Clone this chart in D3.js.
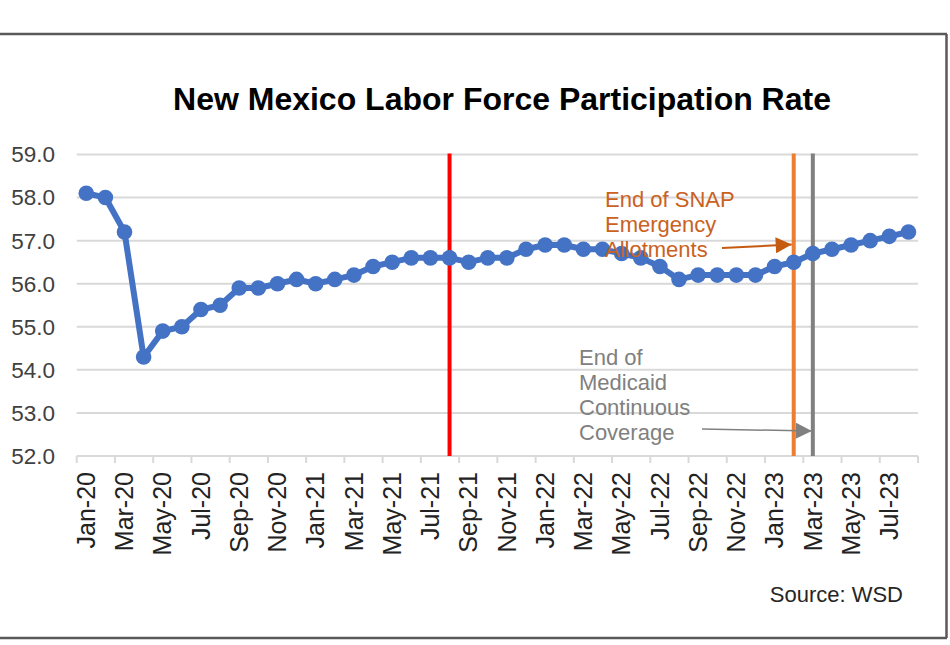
<!DOCTYPE html>
<html>
<head>
<meta charset="utf-8">
<script src="https://cdn.jsdelivr.net/npm/d3@7"></script>
<style>
  body { margin: 0; background: #fff; }
  text { font-family: "Liberation Sans", Arial, sans-serif; }
</style>
</head>
<body>
<div id="chart-area"></div>
<script>
// monthly categories, Jan-20 .. Aug-23
var months = ["Jan-20","Feb-20","Mar-20","Apr-20","May-20","Jun-20","Jul-20","Aug-20","Sep-20","Oct-20","Nov-20","Dec-20",
  "Jan-21","Feb-21","Mar-21","Apr-21","May-21","Jun-21","Jul-21","Aug-21","Sep-21","Oct-21","Nov-21","Dec-21",
  "Jan-22","Feb-22","Mar-22","Apr-22","May-22","Jun-22","Jul-22","Aug-22","Sep-22","Oct-22","Nov-22","Dec-22",
  "Jan-23","Feb-23","Mar-23","Apr-23","May-23","Jun-23","Jul-23","Aug-23"];

// labor force participation rate (%)
var rate = [58.1, 58.0, 57.2, 54.3, 54.9, 55.0, 55.4, 55.5, 55.9, 55.9, 56.0, 56.1,
  56.0, 56.1, 56.2, 56.4, 56.5, 56.6, 56.6, 56.6, 56.5, 56.6, 56.6, 56.8,
  56.9, 56.9, 56.8, 56.8, 56.7, 56.6, 56.4, 56.1, 56.2, 56.2, 56.2, 56.2,
  56.4, 56.5, 56.7, 56.8, 56.9, 57.0, 57.1, 57.2];

var yTicks = [52, 53, 54, 55, 56, 57, 58, 59];

// vertical event markers
var eventMonths = ["Aug-21", "Feb-23", "Mar-23"];
var eventColors = ["#ff0000", "#ed7d31", "#808080"];

var width = 950, height = 645;
var plotLeft = 76.7, plotRight = 918, plotTop = 154.5, plotBottom = 456;

var svg = d3.select("#chart-area")
  .append("svg")
  .attr("width", width)
  .attr("height", height);

// frame
svg.append("line").attr("x1", 0).attr("x2", 947).attr("y1", 34).attr("y2", 34)
  .attr("stroke", "#595959").attr("stroke-width", 2.5);
svg.append("line").attr("x1", 0).attr("x2", 947).attr("y1", 638).attr("y2", 638)
  .attr("stroke", "#595959").attr("stroke-width", 2.5);
svg.append("line").attr("x1", 946.5).attr("x2", 946.5).attr("y1", 34).attr("y2", 638)
  .attr("stroke", "#595959").attr("stroke-width", 2.5);

var x = d3.scaleBand()
  .domain(months)
  .range([plotLeft, plotRight])
  .padding(0);

var y = d3.scaleLinear()
  .domain([52, 59])
  .range([plotBottom, plotTop]);

var bw = x.bandwidth();

// gridlines
svg.append("g")
  .selectAll("line")
  .data(yTicks.filter(function(d) { return d > 52; }))
  .enter().append("line")
  .attr("x1", plotLeft).attr("x2", plotRight)
  .attr("y1", function(d) { return y(d); })
  .attr("y2", function(d) { return y(d); })
  .attr("stroke", "#d9d9d9")
  .attr("stroke-width", 2);

// y labels
svg.append("g")
  .selectAll("text")
  .data(yTicks)
  .enter().append("text")
  .attr("x", 55)
  .attr("y", function(d) { return y(d); })
  .attr("dy", "0.35em")
  .attr("text-anchor", "end")
  .attr("font-size", "22.5px")
  .attr("fill", "#404040")
  .text(function(d) { return d3.format(".1f")(d); });

// x axis: ticks between every second category
var xAxis = svg.append("g");
xAxis.append("line")
  .attr("x1", plotLeft).attr("x2", plotRight)
  .attr("y1", plotBottom).attr("y2", plotBottom)
  .attr("stroke", "#d9d9d9").attr("stroke-width", 2);

var tickPos = months.filter(function(d, i) { return i % 2 === 0; })
  .map(function(d) { return x(d); });
tickPos.push(plotRight);
xAxis.selectAll(".tick")
  .data(tickPos)
  .enter().append("line")
  .attr("x1", function(d) { return d; })
  .attr("x2", function(d) { return d; })
  .attr("y1", plotBottom).attr("y2", plotBottom + 7)
  .attr("stroke", "#d9d9d9").attr("stroke-width", 2);

xAxis.selectAll("text")
  .data(months.filter(function(d, i) { return i % 2 === 0; }))
  .enter().append("text")
  .attr("transform", function(d) {
    return "translate(" + (x(d) + bw / 2) + "," + 472 + ") rotate(-90)";
  })
  .attr("dy", "0.35em")
  .attr("text-anchor", "end")
  .attr("font-size", "25px")
  .attr("fill", "#222")
  .text(function(d) { return d; });

// event lines
svg.append("g")
  .selectAll("line")
  .data(eventMonths)
  .enter().append("line")
  .attr("x1", function(d) { return x(d) + bw / 2; })
  .attr("x2", function(d) { return x(d) + bw / 2; })
  .attr("y1", plotTop - 1).attr("y2", plotBottom)
  .attr("stroke", function(d, i) { return eventColors[i]; })
  .attr("stroke-width", 4);

// series
var line = d3.line()
  .x(function(d, i) { return x(months[i]) + bw / 2; })
  .y(function(d) { return y(d); });

svg.append("path")
  .datum(rate)
  .attr("d", line)
  .attr("fill", "none")
  .attr("stroke", "#4472c4")
  .attr("stroke-width", 6)
  .attr("stroke-linejoin", "round");

svg.append("g")
  .selectAll("circle")
  .data(rate)
  .enter().append("circle")
  .attr("cx", function(d, i) { return x(months[i]) + bw / 2; })
  .attr("cy", function(d) { return y(d); })
  .attr("r", 7.8)
  .attr("fill", "#4472c4");

// title
svg.append("text")
  .attr("x", 502)
  .attr("y", 110)
  .attr("text-anchor", "middle")
  .attr("font-size", "32px")
  .attr("font-weight", "bold")
  .attr("fill", "#000")
  .text("New Mexico Labor Force Participation Rate");

// arrow heads
var defs = svg.append("defs");
function arrowHead(id, color) {
  defs.append("marker")
    .attr("id", id)
    .attr("viewBox", "0 0 10 10")
    .attr("refX", 10).attr("refY", 5)
    .attr("markerUnits", "userSpaceOnUse")
    .attr("markerWidth", 17).attr("markerHeight", 16)
    .attr("orient", "auto")
    .append("path")
    .attr("d", "M0,0 L10,5 L0,10 Z")
    .attr("fill", color);
}
arrowHead("arrOrange", "#c55a11");
arrowHead("arrGray", "#808080");

// SNAP annotation
var snap = svg.append("text")
  .attr("x", 605).attr("y", 206.5)
  .attr("font-size", "22px")
  .attr("fill", "#c9621e");
["End of SNAP", "Emergency", "Allotments"].forEach(function(t, i) {
  snap.append("tspan").attr("x", 605).attr("dy", i === 0 ? 0 : 25).text(t);
});
svg.append("line")
  .attr("x1", 722).attr("y1", 248)
  .attr("x2", x("Feb-23") + bw / 2 - 2).attr("y2", 244.5)
  .attr("stroke", "#c55a11").attr("stroke-width", 2)
  .attr("marker-end", "url(#arrOrange)");

// Medicaid annotation
var med = svg.append("text")
  .attr("x", 579).attr("y", 365)
  .attr("font-size", "22px")
  .attr("fill", "#808080");
["End of", "Medicaid", "Continuous", "Coverage"].forEach(function(t, i) {
  med.append("tspan").attr("x", 579).attr("dy", i === 0 ? 0 : 25).text(t);
});
svg.append("line")
  .attr("x1", 702).attr("y1", 429)
  .attr("x2", x("Mar-23") + bw / 2 - 1).attr("y2", 431)
  .attr("stroke", "#808080").attr("stroke-width", 1.5)
  .attr("marker-end", "url(#arrGray)");

// source
svg.append("text")
  .attr("x", 903).attr("y", 602)
  .attr("text-anchor", "end")
  .attr("font-size", "22px")
  .attr("fill", "#262626")
  .text("Source: WSD");
</script>
</body>
</html>
